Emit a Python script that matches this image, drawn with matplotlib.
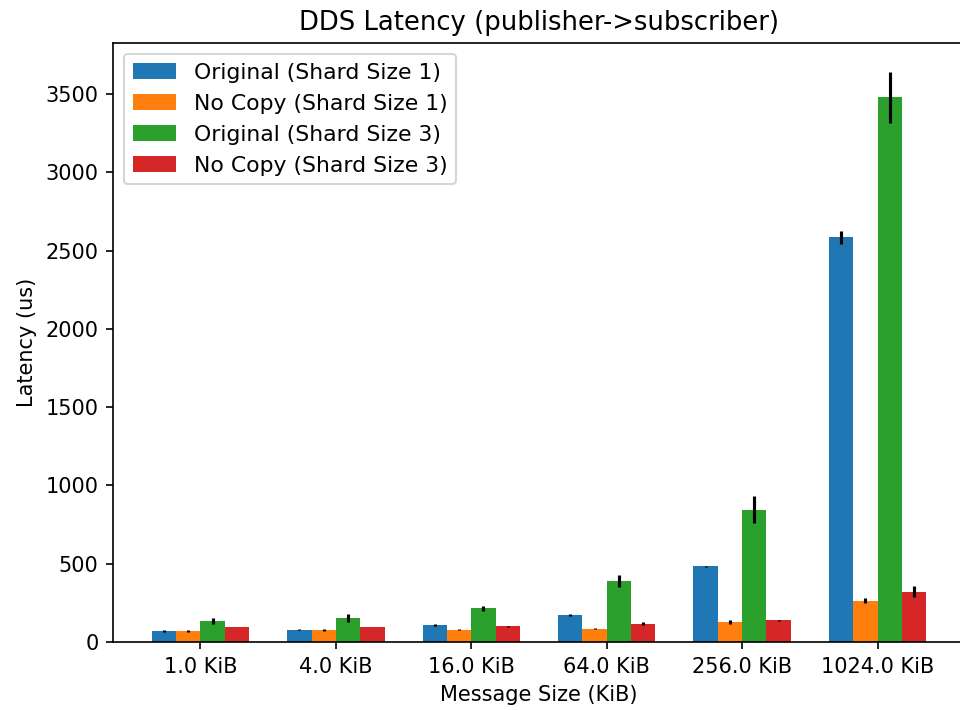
import matplotlib
matplotlib.use("Agg")
import matplotlib.pyplot as plt
import numpy as np

sizes = ["1.0 KiB", "4.0 KiB", "16.0 KiB", "64.0 KiB", "256.0 KiB", "1024.0 KiB"]
series_names = ["Original (Shard Size 1)", "No Copy (Shard Size 1)",
                "Original (Shard Size 3)", "No Copy (Shard Size 3)"]

orig_1 = [70, 79, 108, 175, 485, 2585]
orig_1_err = [4, 3, 5, 6, 3, 43]
nocopy_1 = [70, 76, 78, 84, 127, 264]
nocopy_1_err = [4, 4, 3, 4, 15, 15]
orig_3 = [134, 151, 215, 389, 846, 3482]
orig_3_err = [21, 25, 16, 37, 88, 163]
nocopy_3 = [96, 96, 100, 117, 139, 320]
nocopy_3_err = [3, 3, 3, 10, 4, 35]

values = [orig_1, nocopy_1, orig_3, nocopy_3]
errors = [orig_1_err, nocopy_1_err, orig_3_err, nocopy_3_err]
colors = ["#1f77b4", "#ff7f0e", "#2ca02c", "#d62728"]

fig = plt.figure(figsize=(6.4, 710 / 150), dpi=150)
ax = fig.add_axes([113 / 960, 1 - 642 / 710, (965 - 113) / 960, (642 - 43) / 710])

x = np.arange(len(sizes))
w = 0.18
for i, (vals, errs, name, c) in enumerate(zip(values, errors, series_names, colors)):
    ax.bar(x + (i - 1.5) * w, vals, w, yerr=errs, label=name, color=c,
           error_kw=dict(ecolor="black", elinewidth=1.5))

ax.set_xticks(x)
ax.set_xticklabels(sizes)
ax.set_xlabel("Message Size (KiB)")
ax.set_ylabel("Latency (us)")
ax.set_title("DDS Latency (publisher->subscriber)", fontsize=12.4)
ax.legend(loc="upper left", fontsize=10.5)

fig.savefig("out.png", dpi=150)
